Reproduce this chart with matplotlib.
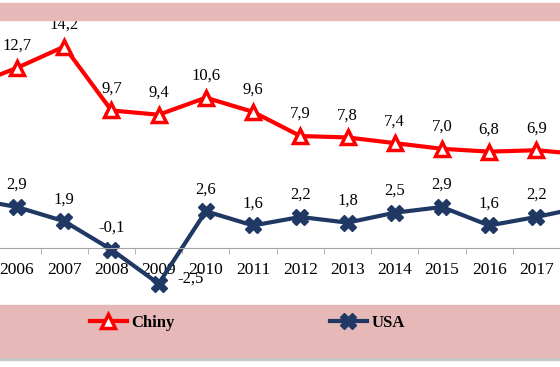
import matplotlib.pyplot as plt
from matplotlib.patches import Rectangle
import numpy as np

years = ["2005", "2006", "2007", "2008", "2009", "2010", "2011", "2012",
         "2013", "2014", "2015", "2016", "2017", "2018"]
chiny = [11.4, 12.7, 14.2, 9.7, 9.4, 10.6, 9.6, 7.9, 7.8, 7.4, 7.0, 6.8, 6.9, 6.6]
usa = [3.5, 2.9, 1.9, -0.1, -2.5, 2.6, 1.6, 2.2, 1.8, 2.5, 2.9, 1.6, 2.2, 2.9]

plt.rcParams['font.family'] = ['Liberation Serif', 'DejaVu Serif']

W, H = 560, 367
fig = plt.figure(figsize=(W / 100, H / 100), dpi=100)
pink = '#e6b8b7'

# pink bands (top strip and legend area) with grey shadow under legend
fig.patches.append(Rectangle((0, 1 - 20 / H), 1, 17 / H, transform=fig.transFigure,
                             color=pink, zorder=0))
fig.patches.append(Rectangle((0, 1 - 360 / H), 1, 3 / H, transform=fig.transFigure,
                             color='#c8c8c8', zorder=0))
fig.patches.append(Rectangle((0, 1 - 357 / H), 1, 52 / H, transform=fig.transFigure,
                             color=pink, zorder=0))

ax = fig.add_axes([0, 1 - 305 / H, 1, (305 - 21) / H])
ax.patch.set_alpha(0)
x = np.arange(len(years))
x0, x1 = 0.64, 12.5

ax.plot(x, chiny, color='#ff0000', lw=3, marker='^', ms=10, mfc='white',
        mec='#ff0000', mew=2.5, label='Chiny')
ax.plot(x, usa, color='#1f3864', lw=3, marker='X', ms=11, mfc='#1f3864',
        mec='#1f3864', label='USA')

def lab(v):
    return f"{v:.1f}".replace('.', ',')

for xi, v in zip(x, chiny):
    if x0 < xi < x1:
        ax.annotate(lab(v), (xi, v), xytext=(0, 10), textcoords='offset points',
                    ha='center', va='bottom', fontsize=12)
for xi, v in zip(x, usa):
    if not x0 < xi < x1:
        continue
    if v < -1:
        ax.annotate(lab(v), (xi, v), xytext=(23, 4), textcoords='offset points',
                    ha='center', va='center', fontsize=12)
    else:
        ax.annotate(lab(v), (xi, v), xytext=(0, 10), textcoords='offset points',
                    ha='center', va='bottom', fontsize=12)

for s in ['top', 'left', 'right']:
    ax.spines[s].set_visible(False)
ax.spines['bottom'].set_position(('data', 0))
ax.spines['bottom'].set_color('#a6a6a6')
ax.set_yticks([])
ax.set_xticks(x)
ax.set_xticklabels(years, fontsize=12.5)
ax.tick_params(axis='x', which='major', length=0, pad=10)
ax.set_xticks(x[:-1] + 0.5, minor=True)
ax.tick_params(axis='x', which='minor', length=4, color='#a6a6a6', direction='out')
ax.set_xlim(x0, x1)
ax.set_ylim(-4, 16)

fig.legend(loc='center', bbox_to_anchor=(247.5 / W, 1 - 323 / H), ncol=2,
           frameon=False, handlelength=2.2, handletextpad=0.3, columnspacing=9.3,
           prop={'weight': 'bold', 'size': 12})

fig.savefig('out.png', dpi=100)
